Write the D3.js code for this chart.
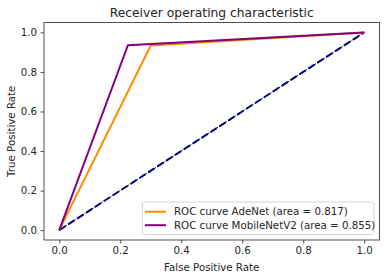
<!DOCTYPE html>
<html><head><meta charset="utf-8">
<script src="https://cdn.jsdelivr.net/npm/d3@7"></script>
<style>body{margin:0;background:#fff}text{font-family:"DejaVu Sans",sans-serif;fill:#262626}</style>
</head><body><svg id="c" width="386" height="278"></svg>
<script>
const seriesNames = ["ROC curve AdeNet (area = 0.817)", "ROC curve MobileNetV2 (area = 0.855)"];
const adenetFpr = [0, 0.30, 1];
const adenetTpr = [0, 0.934, 1];
const mobileFpr = [0, 0.225, 1];
const mobileTpr = [0, 0.935, 1];
const diagX = [0, 1];
const diagY = [0, 1];
const tickValues = [0, 0.2, 0.4, 0.6, 0.8, 1.0];
const colors = ["#ff8c00", "#800080"];

const FS = 10.25;
const svg = d3.select("#c");
const L = 44, R = 379.5, T = 22.5, B = 240;
const x = d3.scaleLinear().domain([-0.05, 1.05]).range([L, R]);
const y = d3.scaleLinear().domain([-0.05, 1.05]).range([B, T]);

const xa = svg.append("g").attr("transform", `translate(0,${B})`)
  .call(d3.axisBottom(x).tickValues(tickValues).tickFormat(d3.format(".1f")).tickSize(3.5).tickPadding(3.5));
const ya = svg.append("g").attr("transform", `translate(${L},0)`)
  .call(d3.axisLeft(y).tickValues(tickValues).tickFormat(d3.format(".1f")).tickSize(3.5).tickPadding(3.5));
[xa, ya].forEach(a => {
  a.select(".domain").remove();
  a.selectAll("line").attr("stroke", "#262626").attr("stroke-width", 0.8);
  a.selectAll("text").attr("font-size", FS).style("font-family", '"DejaVu Sans",sans-serif').attr("fill", "#262626");
});

const line = d3.line().x(d => x(d[0])).y(d => y(d[1]));
const diag = diagX.map((v, i) => [v, diagY[i]]);
svg.append("path").attr("d", line(diag)).attr("fill", "none").attr("stroke", "#000").attr("stroke-width", 1).attr("stroke-dasharray", "3.7,1.6");
svg.append("path").attr("d", line(diag)).attr("fill", "none").attr("stroke", "#000080").attr("stroke-width", 2).attr("stroke-dasharray", "7.4,3.2");

const series = [adenetFpr.map((v, i) => [v, adenetTpr[i]]), mobileFpr.map((v, i) => [v, mobileTpr[i]])];
series.forEach((s, i) => {
  svg.append("path").attr("d", line(s)).attr("fill", "none").attr("stroke", colors[i]).attr("stroke-width", 2).attr("stroke-linejoin", "round");
});

svg.append("rect").attr("x", L).attr("y", T).attr("width", R - L).attr("height", B - T)
  .attr("fill", "none").attr("stroke", "#262626").attr("stroke-width", 0.8);

// legend
const lg = svg.append("g");
lg.append("rect").attr("x", 142.5).attr("y", 202).attr("width", 231.5).attr("height", 32.5).attr("rx", 2)
  .attr("fill", "#fff").attr("fill-opacity", 0.8).attr("stroke", "#ccc").attr("stroke-width", 0.8);
seriesNames.forEach((n, i) => {
  const yy = 211.7 + i * 13.5;
  lg.append("line").attr("x1", 145).attr("x2", 166).attr("y1", yy).attr("y2", yy).attr("stroke", colors[i]).attr("stroke-width", 2);
  lg.append("text").attr("x", 174).attr("y", yy + 3.7).attr("font-size", FS).text(n);
});

svg.append("text").attr("x", (L + R) / 2).attr("y", 17).attr("text-anchor", "middle").attr("font-size", 12.3).text("Receiver operating characteristic");
svg.append("text").attr("x", (L + R) / 2).attr("y", 270.5).attr("text-anchor", "middle").attr("font-size", FS).text("False Positive Rate");
svg.append("text").attr("transform", `translate(14.5,${(T + B) / 2}) rotate(-90)`).attr("text-anchor", "middle").attr("font-size", FS).text("True Positive Rate");
</script></body></html>
